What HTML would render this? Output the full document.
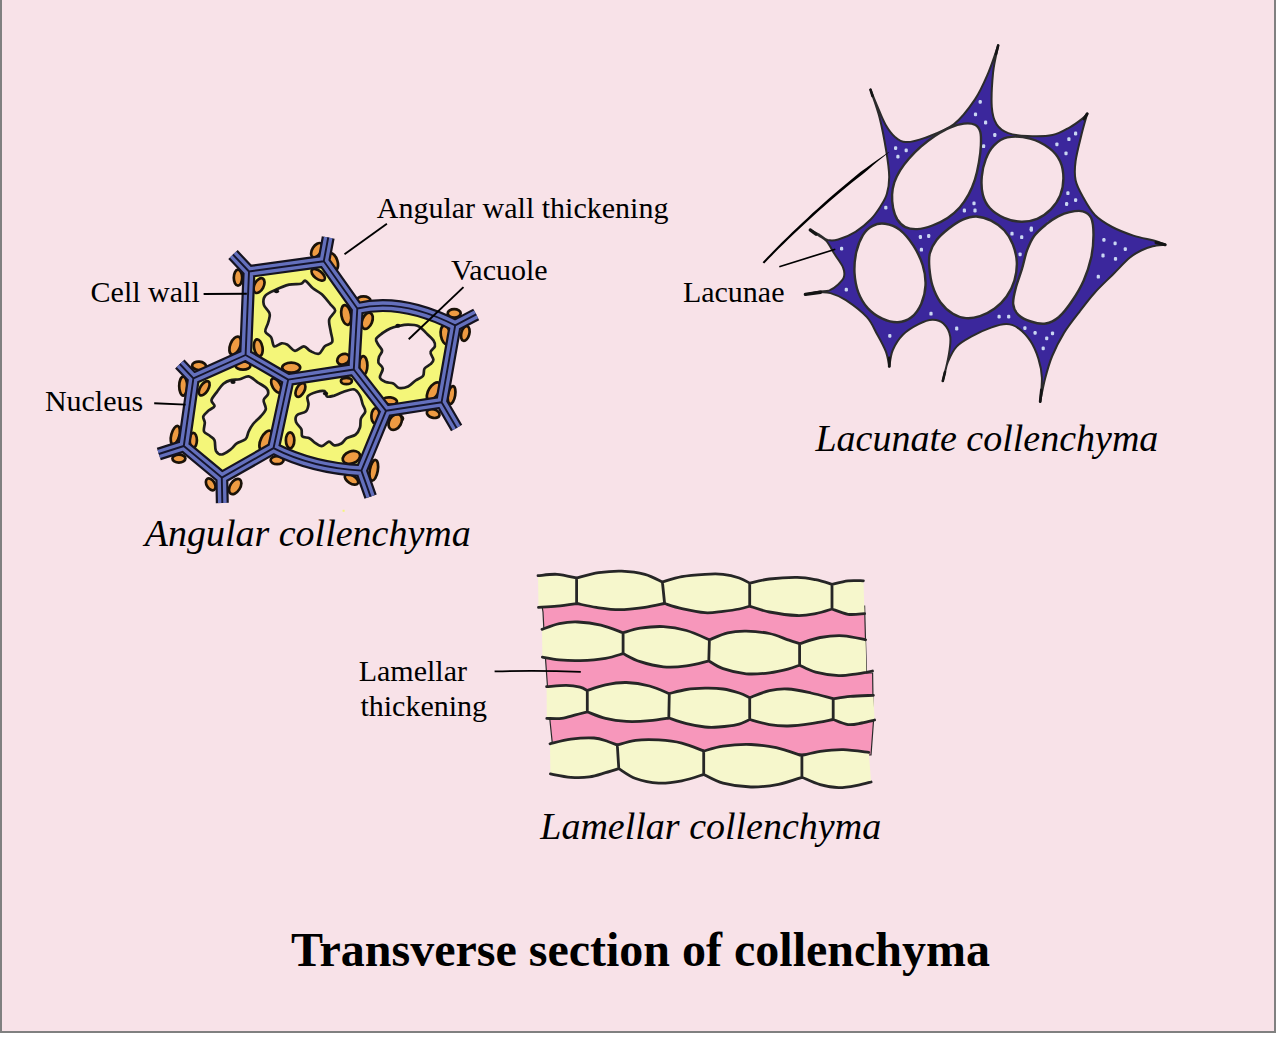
<!DOCTYPE html>
<html lang="en">
<head>
<meta charset="utf-8">
<title>Transverse section of collenchyma</title>
<style>
html,body{margin:0;padding:0;background:#fff;}
body{width:1276px;height:1038px;overflow:hidden;position:relative;font-family:"Liberation Serif",serif;color:#000;}
#panel{position:absolute;left:0;top:0;width:1272px;height:1031px;background:#f8e2e8;border-left:2px solid #808080;border-right:2px solid #808080;border-bottom:2px solid #808080;}
svg{position:absolute;left:0;top:0;}
text{font-family:"Liberation Serif",serif;fill:#000;}
.lab{font-size:30px;}
.cap{font-size:38px;font-style:italic;}
.title{font-size:48px;font-weight:bold;}
</style>
</head>
<body>
<div id="panel"></div>
<svg width="1276" height="1038" viewBox="0 0 1276 1038">
<g id="angular">
<path fill="#f4f679" d="M249 271.5L323.8 261.2L357.3 308.5L353.8 369.5L288.2 379.6L245.6 355L249 271.5ZM357.3 308.5Q402 298 455.2 325.4L441.6 402.2L386 410.8L353.8 369.5L357.3 308.5ZM245.6 355L193.4 378.4L183.8 446L221.8 477.6L273.5 448.2L288.2 379.6L245.6 355ZM288.2 379.6L353.8 369.5L386 410.8L361.4 470.6Q312 468 273.5 448.2L288.2 379.6Z"/>
<g fill="#ee9b42" stroke="#1a1208" stroke-width="2.7">
<ellipse cx="238" cy="277.7" rx="4.2" ry="8" transform="rotate(0 238 277.7)"/>
<ellipse cx="259" cy="285.6" rx="4.6" ry="8" transform="rotate(28 259 285.6)"/>
<ellipse cx="316.8" cy="250.2" rx="4.5" ry="8" transform="rotate(32 316.8 250.2)"/>
<ellipse cx="332.7" cy="261.8" rx="4.8" ry="9" transform="rotate(-18 332.7 261.8)"/>
<ellipse cx="318.2" cy="274.8" rx="4" ry="8" transform="rotate(-52 318.2 274.8)"/>
<ellipse cx="363.5" cy="300.6" rx="7" ry="4.2" transform="rotate(0 363.5 300.6)"/>
<ellipse cx="346.2" cy="315" rx="4.8" ry="10" transform="rotate(-10 346.2 315)"/>
<ellipse cx="367.2" cy="320.8" rx="5" ry="8.5" transform="rotate(22 367.2 320.8)"/>
<ellipse cx="235.2" cy="345.6" rx="5" ry="9.5" transform="rotate(22 235.2 345.6)"/>
<ellipse cx="258.3" cy="347.7" rx="4.2" ry="8.5" transform="rotate(-10 258.3 347.7)"/>
<ellipse cx="243" cy="365.5" rx="7.5" ry="4.2" transform="rotate(0 243 365.5)"/>
<ellipse cx="291.2" cy="367.6" rx="9" ry="5" transform="rotate(0 291.2 367.6)"/>
<ellipse cx="343.4" cy="359.2" rx="6.5" ry="5" transform="rotate(-30 343.4 359.2)"/>
<ellipse cx="363.2" cy="365.6" rx="4.2" ry="9.5" transform="rotate(0 363.2 365.6)"/>
<ellipse cx="454.2" cy="313.3" rx="6.5" ry="4.2" transform="rotate(0 454.2 313.3)"/>
<ellipse cx="445.6" cy="335" rx="4.8" ry="9.5" transform="rotate(-10 445.6 335)"/>
<ellipse cx="465.3" cy="333.5" rx="4" ry="7.5" transform="rotate(15 465.3 333.5)"/>
<ellipse cx="346.4" cy="381" rx="5.5" ry="3.2" transform="rotate(0 346.4 381)"/>
<ellipse cx="433.6" cy="391.2" rx="5" ry="10" transform="rotate(32 433.6 391.2)"/>
<ellipse cx="451.6" cy="395" rx="3.6" ry="9" transform="rotate(10 451.6 395)"/>
<ellipse cx="390.1" cy="401" rx="7" ry="3.6" transform="rotate(8 390.1 401)"/>
<ellipse cx="375.4" cy="415.6" rx="4" ry="7.5" transform="rotate(5 375.4 415.6)"/>
<ellipse cx="433.2" cy="413.6" rx="6.5" ry="4.2" transform="rotate(15 433.2 413.6)"/>
<ellipse cx="398" cy="418.5" rx="5" ry="3" transform="rotate(0 398 418.5)"/>
<ellipse cx="199.1" cy="365.9" rx="7" ry="4.2" transform="rotate(5 199.1 365.9)"/>
<ellipse cx="183.2" cy="386.1" rx="4" ry="9.5" transform="rotate(0 183.2 386.1)"/>
<ellipse cx="204.2" cy="388.3" rx="4" ry="8" transform="rotate(32 204.2 388.3)"/>
<ellipse cx="276.4" cy="385.6" rx="4" ry="8" transform="rotate(-30 276.4 385.6)"/>
<ellipse cx="300.4" cy="390" rx="4" ry="7.5" transform="rotate(28 300.4 390)"/>
<ellipse cx="175.3" cy="435.2" rx="4" ry="9.5" transform="rotate(15 175.3 435.2)"/>
<ellipse cx="193.3" cy="440.3" rx="3.6" ry="7.5" transform="rotate(0 193.3 440.3)"/>
<ellipse cx="265.8" cy="440.3" rx="5" ry="10.5" transform="rotate(26 265.8 440.3)"/>
<ellipse cx="290.1" cy="440.3" rx="4.2" ry="8" transform="rotate(0 290.1 440.3)"/>
<ellipse cx="178.9" cy="458.6" rx="6.5" ry="4" transform="rotate(0 178.9 458.6)"/>
<ellipse cx="277.1" cy="460.2" rx="6.5" ry="4" transform="rotate(0 277.1 460.2)"/>
<ellipse cx="210.7" cy="484.4" rx="4" ry="6.5" transform="rotate(-32 210.7 484.4)"/>
<ellipse cx="235.2" cy="486.5" rx="5" ry="8.5" transform="rotate(32 235.2 486.5)"/>
<ellipse cx="395.2" cy="422" rx="6" ry="8.5" transform="rotate(30 395.2 422)"/>
<ellipse cx="351.4" cy="457.4" rx="9" ry="6" transform="rotate(-20 351.4 457.4)"/>
<ellipse cx="373.8" cy="470.3" rx="4" ry="10.5" transform="rotate(10 373.8 470.3)"/>
<ellipse cx="351.5" cy="479.4" rx="7.5" ry="4" transform="rotate(32 351.5 479.4)"/>
</g>
<g fill="none" stroke-linejoin="round">
<path stroke="#15131f" stroke-width="13" stroke-linecap="butt" d="M249 271.5L323.8 261.2M323.8 261.2L357.3 308.5M357.3 308.5L353.8 369.5M353.8 369.5L288.2 379.6M288.2 379.6L245.6 355M245.6 355L249 271.5M357.3 308.5Q402 298 455.2 325.4M455.2 325.4L441.6 402.2M441.6 402.2L386 410.8M386 410.8L353.8 369.5M245.6 355L193.4 378.4M193.4 378.4L183.8 446M183.8 446L221.8 477.6M221.8 477.6L273.5 448.2M273.5 448.2L288.2 379.6M386 410.8L361.4 470.6M361.4 470.6Q312 468 273.5 448.2M249 271.5L233 254.5M323.8 261.2L328.2 237.5M455.2 325.4L476.2 314.4M441.6 402.2L456.6 428M361.4 470.6L370.6 496.6M221.8 477.6L222.3 503M183.8 446L158.8 454M193.4 378.4L179.8 364"/>
<path stroke="#6470bd" stroke-width="8.6" stroke-linecap="butt" d="M249 271.5L323.8 261.2M323.8 261.2L357.3 308.5M357.3 308.5L353.8 369.5M353.8 369.5L288.2 379.6M288.2 379.6L245.6 355M245.6 355L249 271.5M357.3 308.5Q402 298 455.2 325.4M455.2 325.4L441.6 402.2M441.6 402.2L386 410.8M386 410.8L353.8 369.5M245.6 355L193.4 378.4M193.4 378.4L183.8 446M183.8 446L221.8 477.6M221.8 477.6L273.5 448.2M273.5 448.2L288.2 379.6M386 410.8L361.4 470.6M361.4 470.6Q312 468 273.5 448.2M249 271.5L233 254.5M323.8 261.2L328.2 237.5M455.2 325.4L476.2 314.4M441.6 402.2L456.6 428M361.4 470.6L370.6 496.6M221.8 477.6L222.3 503M183.8 446L158.8 454M193.4 378.4L179.8 364"/>
<path stroke="#15152e" stroke-width="1.9" stroke-linecap="butt" d="M249 271.5L323.8 261.2M323.8 261.2L357.3 308.5M357.3 308.5L353.8 369.5M353.8 369.5L288.2 379.6M288.2 379.6L245.6 355M245.6 355L249 271.5M357.3 308.5Q402 298 455.2 325.4M455.2 325.4L441.6 402.2M441.6 402.2L386 410.8M386 410.8L353.8 369.5M245.6 355L193.4 378.4M193.4 378.4L183.8 446M183.8 446L221.8 477.6M221.8 477.6L273.5 448.2M273.5 448.2L288.2 379.6M386 410.8L361.4 470.6M361.4 470.6Q312 468 273.5 448.2M249 271.5L233 254.5M323.8 261.2L328.2 237.5M455.2 325.4L476.2 314.4M441.6 402.2L456.6 428M361.4 470.6L370.6 496.6M221.8 477.6L222.3 503M183.8 446L158.8 454M193.4 378.4L179.8 364"/>
</g>
<g fill="#f8e2e8" stroke="#1e1e1e" stroke-width="2.7" stroke-linejoin="round">
<path d="M275.7 289.8C279.6 287.9 284.9 285.6 289.1 284.6C293.3 283.6 298.2 284.4 301 283.8C303.7 283.2 303.5 280.1 305.4 280.8C307.4 281.6 310.1 286.1 312.9 288.3C315.6 290.5 318.8 291.5 321.8 294.2C324.8 297 328.5 301.9 330.7 304.7C333 307.4 335.4 308.1 335.2 310.6C334.9 313.1 330 316.1 329.2 319.5C328.5 323 330.2 327.7 330.7 331.4C331.2 335.2 333.2 339.4 332.2 341.9C331.2 344.3 327 344.3 324.8 346.3C322.5 348.3 321.3 353 318.8 353.8C316.3 354.5 312.4 352 309.9 350.8C307.4 349.5 306.4 346.3 303.9 346.3C301.5 346.3 297.7 351 295 350.8C292.3 350.5 289.8 346.1 287.6 344.8C285.3 343.6 283.9 343.1 281.6 343.3C279.4 343.6 275.9 347.3 274.2 346.3C272.5 345.3 272.7 339.9 271.2 337.4C269.7 334.9 265.8 333.9 265.3 331.4C264.8 329 267.5 325.5 268.2 322.5C269 319.5 270.5 316.6 269.7 313.6C269 310.6 264.5 307.6 263.8 304.7C263 301.7 263.3 298.2 265.3 295.7C267.2 293.2 271.7 291.6 275.7 289.8Z"/>
<path d="M397.7 326.2C400.7 325.6 404.7 324.7 408.1 324.7C411.6 324.7 415.6 324.8 418.6 326.2C421.5 327.6 423.5 330.5 426 332.9C428.5 335.2 431.9 338.1 433.4 340.3C434.9 342.6 435.4 344.3 434.9 346.3C434.4 348.3 430.7 350 430.5 352.2C430.2 354.5 433.4 357.7 433.4 359.7C433.4 361.7 431.9 362.7 430.5 364.1C429 365.6 425.7 366.6 424.5 368.6C423.3 370.6 424.5 374.1 423 376C421.5 378 418.1 378.8 415.6 380.5C413.1 382.2 410.9 385.2 408.1 386.5C405.4 387.7 401.7 388.4 399.2 388C396.7 387.5 395.5 384.5 393.3 383.5C391 382.5 388.1 383 385.8 382C383.6 381 380.4 379.8 379.9 377.5C379.4 375.3 383.1 371.1 382.8 368.6C382.6 366.1 379 364.6 378.4 362.7C377.8 360.7 378.5 358.7 379.1 356.7C379.7 354.7 382.2 352.7 382.1 350.7C382 348.8 379.4 346.8 378.4 344.8C377.4 342.8 375.4 340.8 376.1 338.8C376.9 336.9 380.5 334.6 382.8 332.9C385.2 331.2 387.8 329.5 390.3 328.4C392.8 327.3 394.7 326.8 397.7 326.2Z"/>
<path d="M230.8 380.1C233.6 379.3 236.8 380 239.8 379.3C242.7 378.7 245.7 375.9 248.7 376.4C251.7 376.9 254.6 380.3 257.6 382.3C260.6 384.3 264.8 386.3 266.5 388.3C268.3 390.2 268.5 392.2 268 394.2C267.5 396.2 263.9 397.7 263.6 400.2C263.2 402.6 266.3 406.4 265.8 409.1C265.3 411.8 262.7 414.1 260.6 416.5C258.5 419 255.1 421.5 253.1 424C251.2 426.5 249.9 428.9 248.7 431.4C247.4 433.9 247.7 436.9 245.7 438.9C243.7 440.8 239.3 441.6 236.8 443.3C234.3 445.1 233.3 447.4 230.8 449.3C228.3 451.1 224.4 454.2 221.9 454.5C219.4 454.7 217.2 453.1 215.9 450.8C214.7 448.4 215.5 442.8 214.5 440.3C213.5 437.9 211.7 437.4 210 435.9C208.3 434.4 204.9 433.6 204 431.4C203.2 429.2 204.9 425 204.8 422.5C204.7 420 202.7 418.5 203.3 416.5C203.9 414.6 206.6 412.3 208.5 410.6C210.4 408.8 214 407.9 214.5 406.1C215 404.4 211 402.6 211.5 400.2C212 397.7 215.5 394 217.4 391.2C219.4 388.5 221.2 385.7 223.4 383.8C225.6 381.9 228.1 380.8 230.8 380.1Z"/>
<path d="M307.6 396.5C309 394.4 313.7 392.9 316.5 392C319.3 391.1 322.7 390.4 324.5 391.1C326.3 391.9 325.5 395.7 327.2 396.5C328.8 397.2 331.6 396.3 334.3 395.6C336.9 394.8 339.9 393 343.1 392C346.4 391 351 388.8 353.8 389.3C356.6 389.9 358.5 393 360 395.6C361.5 398.1 361.8 401.8 362.7 404.4C363.6 407.1 365.6 409.2 365.3 411.5C365 413.9 361.8 416 360.9 418.6C360 421.3 360.9 424.9 360 427.5C359.1 430.2 357.8 432.9 355.6 434.6C353.4 436.4 349.1 436.7 346.7 438.2C344.3 439.7 343.4 442.3 341.4 443.5C339.3 444.7 336.3 445.6 334.3 445.3C332.2 445 331 441.6 328.9 441.7C326.9 441.9 324.2 446 321.8 446.2C319.5 446.3 316.8 444 314.7 442.6C312.7 441.3 311.5 439.2 309.4 438.2C307.3 437.1 303.6 437.9 302.3 436.4C301 434.9 302.4 431.7 301.4 429.3C300.4 426.9 296.8 424.6 296.1 422.2C295.3 419.8 295.3 416.9 297 415.1C298.6 413.3 303.9 413.3 305.8 411.5C307.8 409.8 308.2 407 308.5 404.4C308.8 401.9 306.3 398.5 307.6 396.5Z"/>
</g>
<g fill="#111">
<ellipse cx="276.5" cy="291.3" rx="2.6" ry="2"/>
<ellipse cx="397.9" cy="325.8" rx="2.6" ry="2"/>
<ellipse cx="233" cy="382" rx="2.6" ry="2"/>
<ellipse cx="325.5" cy="393.6" rx="2.6" ry="2"/>
</g>
</g>
<rect x="342.6" y="509.8" width="2" height="2" fill="#f4f679"/>
<g id="lacunate">
<path fill="#3b279c" stroke="#2b2b2b" stroke-width="2" stroke-linejoin="round" d="M870.5 89.7C871.7 92.6 875.2 101.3 877.7 107.1C880.1 112.9 882.5 119.4 885.4 124.4C888.3 129.4 891.6 134 895 136.9C898.4 139.9 900.6 142 905.6 142.1C910.6 142.3 916.8 140.9 924.9 137.9C932.9 134.9 945.4 130.8 953.8 124.4C962.1 118 969.2 108 975 99.4C980.8 90.7 984.6 81.4 988.5 72.4C992.3 63.4 996.6 49.9 998.2 45.4C997.4 49.9 994.2 62.1 993.1 72.4C992.1 82.7 991.2 98.4 991.8 107.1C992.4 115.7 993.9 120.1 996.6 124.4C999.3 128.7 1003 131.2 1008.2 133.1C1013.3 135 1020.1 135.7 1027.4 136C1034.8 136.3 1045.4 136.5 1052.5 135C1059.6 133.6 1064.8 130 1069.8 127.3C1074.8 124.6 1079.5 120.9 1082.4 118.6C1085.2 116.4 1086.4 114.6 1087.2 113.8C1086.2 117.3 1083.3 127.1 1081.4 135C1079.5 142.9 1076.6 153.5 1075.6 161C1074.6 168.6 1074.3 174.2 1075.6 180.3C1076.9 186.4 1080.1 191.8 1083.3 197.6C1086.5 203.4 1090.1 210.1 1094.9 215C1099.7 219.9 1105.8 223.5 1112.2 227C1118.6 230.4 1126.3 233.3 1133.4 235.6C1140.5 238 1149.3 239.3 1154.6 240.8C1159.9 242.4 1163.4 244.1 1165.2 244.7C1163.1 245 1156.7 245.3 1152.7 246.2C1148.7 247.2 1145 248.6 1141.1 250.5C1137.3 252.4 1134.1 254 1129.6 257.8C1125.1 261.6 1119.9 267.4 1114.1 273.2C1108.4 279 1100.7 286.1 1094.9 292.5C1089.1 298.9 1084.6 305 1079.5 311.8C1074.3 318.5 1068.6 325.6 1064 332.9C1059.5 340.3 1055.4 348.3 1052.2 356C1049 363.7 1047 371.4 1045 379C1043 386.6 1041 397.9 1040.2 401.7C1040.5 397.7 1042.2 384.8 1041.9 377.6C1041.6 370.4 1040.3 364.6 1038.4 358.6C1036.5 352.6 1034 346.4 1030.7 341.4C1027.4 336.4 1022.6 331.3 1018.6 328.4C1014.6 325.5 1011.2 324.2 1006.6 324.1C1002 324 996.8 325.6 991 327.6C985.2 329.6 977.8 333 972.1 336.2C966.4 339.4 960.6 342.3 956.6 346.6C952.6 350.9 950.2 356.3 947.9 362C945.6 367.7 943.6 377.8 942.8 381C943.8 376.8 947.4 363.4 948.6 356C949.8 348.6 951.1 341.9 950.2 336.5C949.3 331.1 946.4 326.4 943.4 323.6C940.4 320.8 936.5 319.7 932.4 319.8C928.3 319.9 923.5 321.7 918.6 324.1C913.7 326.6 907.4 330.2 903.1 334.5C898.8 338.8 895.1 344.7 892.8 350C890.5 355.3 889.9 363.7 889.3 366.4C888.7 363.9 887.9 357 885.9 351.7C883.9 346.4 880.4 340.2 877.2 334.5C874 328.8 872.1 322.9 866.9 317.2C861.7 311.5 851.9 304.2 845.9 300.2C839.8 296.2 835 294.4 830.5 293.1C826 291.7 823.1 292.1 818.9 292.3C814.7 292.5 807.7 294 805.4 294.4C807.7 294 814.9 292.4 818.9 291.7C822.9 291 826.3 291.6 829.5 290.4C832.7 289.1 835.8 286.6 838.2 284.4C840.6 282.2 843.1 279.9 843.9 277.1C844.8 274.2 844.5 271.2 843 267.4C841.4 263.6 837.4 258.7 834.7 254.3C832 250 829.2 244.3 826.6 241.2C824 238.1 821.6 237.5 818.9 235.6C816.2 233.8 811.7 230.9 810.2 229.9C811.8 230.8 817 233.4 819.9 235.1C822.8 236.7 824.5 239.1 827.6 239.9C830.6 240.6 833.5 240.8 838.2 239.5C842.8 238.2 850.1 235.2 855.5 231.8C861 228.4 866.8 223.5 870.9 219.3C875.1 215 877.9 210.5 880.6 206.3C883.2 202.1 885.5 198.8 886.9 193.8C888.4 188.8 889.3 183.5 889.2 176.4C889.1 169.4 887.9 161.2 886.3 151.4C884.7 141.6 882.2 127.9 879.6 117.7C877 107.4 872 94.4 870.5 89.7Z"/>
<g fill="#c9d6f2">
<rect x="894" y="146.2" width="3.2" height="3.8" rx="1.2"/>
<rect x="904.6" y="148.5" width="3.2" height="3.8" rx="1.2"/>
<rect x="896.3" y="154.7" width="3.2" height="3.8" rx="1.2"/>
<rect x="978.6" y="100" width="3.2" height="3.8" rx="1.2"/>
<rect x="973.9" y="112.5" width="3.2" height="3.8" rx="1.2"/>
<rect x="984" y="120.6" width="3.2" height="3.8" rx="1.2"/>
<rect x="993.2" y="133.1" width="3.2" height="3.8" rx="1.2"/>
<rect x="982" y="144.3" width="3.2" height="3.8" rx="1.2"/>
<rect x="884.2" y="205.7" width="3.2" height="3.8" rx="1.2"/>
<rect x="972.4" y="201.5" width="3.2" height="3.8" rx="1.2"/>
<rect x="962.8" y="208.6" width="3.2" height="3.8" rx="1.2"/>
<rect x="973.4" y="208.6" width="3.2" height="3.8" rx="1.2"/>
<rect x="1074" y="131.6" width="3.2" height="3.8" rx="1.2"/>
<rect x="1067.3" y="137.3" width="3.2" height="3.8" rx="1.2"/>
<rect x="1055.3" y="142.4" width="3.2" height="3.8" rx="1.2"/>
<rect x="1064.4" y="151.4" width="3.2" height="3.8" rx="1.2"/>
<rect x="1066.3" y="191.3" width="3.2" height="3.8" rx="1.2"/>
<rect x="1074" y="198.2" width="3.2" height="3.8" rx="1.2"/>
<rect x="1065" y="202.1" width="3.2" height="3.8" rx="1.2"/>
<rect x="1047.4" y="221.4" width="3.2" height="3.8" rx="1.2"/>
<rect x="1029.7" y="226.6" width="3.2" height="3.8" rx="1.2"/>
<rect x="840" y="246.7" width="3.2" height="3.8" rx="1.2"/>
<rect x="844.7" y="287.7" width="3.2" height="3.8" rx="1.2"/>
<rect x="918.8" y="235.1" width="3.2" height="3.8" rx="1.2"/>
<rect x="927.1" y="234.1" width="3.2" height="3.8" rx="1.2"/>
<rect x="919.8" y="247.8" width="3.2" height="3.8" rx="1.2"/>
<rect x="929.4" y="311.8" width="3.2" height="3.8" rx="1.2"/>
<rect x="955.1" y="326.6" width="3.2" height="3.8" rx="1.2"/>
<rect x="888.2" y="333.9" width="3.2" height="3.8" rx="1.2"/>
<rect x="997.5" y="314.7" width="3.2" height="3.8" rx="1.2"/>
<rect x="1007.1" y="314.7" width="3.2" height="3.8" rx="1.2"/>
<rect x="1010.4" y="231.8" width="3.2" height="3.8" rx="1.2"/>
<rect x="1020.1" y="235.3" width="3.2" height="3.8" rx="1.2"/>
<rect x="1029.7" y="228" width="3.2" height="3.8" rx="1.2"/>
<rect x="1018.5" y="252.4" width="3.2" height="3.8" rx="1.2"/>
<rect x="1102.3" y="238" width="3.2" height="3.8" rx="1.2"/>
<rect x="1113.5" y="241.5" width="3.2" height="3.8" rx="1.2"/>
<rect x="1123.7" y="247.2" width="3.2" height="3.8" rx="1.2"/>
<rect x="1101.4" y="253.6" width="3.2" height="3.8" rx="1.2"/>
<rect x="1113.9" y="256.9" width="3.2" height="3.8" rx="1.2"/>
<rect x="1096.7" y="274.8" width="3.2" height="3.8" rx="1.2"/>
<rect x="1023.3" y="326.2" width="3.2" height="3.8" rx="1.2"/>
<rect x="1033.5" y="331" width="3.2" height="3.8" rx="1.2"/>
<rect x="1050.9" y="331.4" width="3.2" height="3.8" rx="1.2"/>
<rect x="1045.1" y="336.4" width="3.2" height="3.8" rx="1.2"/>
<rect x="1041.6" y="346.5" width="3.2" height="3.8" rx="1.2"/>
</g>
<g fill="#f8e2e8" stroke="#2e2e2e" stroke-width="2.4">
<path d="M974.9 124.8C977.6 126.2 979.3 128.5 980.3 132C981.3 135.4 981.1 140.2 980.9 145.3C980.7 150.4 979.9 156.7 978.9 162.5C977.9 168.2 976.6 174.3 974.9 179.6C973.2 184.9 971.2 189.7 968.7 194.4C966.2 199 963.3 203.6 959.7 207.5C956.2 211.5 952.1 214.9 947.6 217.9C943 220.9 937.5 223.6 932.4 225.5C927.4 227.3 921.8 228.8 917.3 229.1C912.8 229.3 908.6 228.7 905.3 227.1C902 225.5 899.4 222.7 897.3 219.5C895.3 216.3 894 212.1 893.1 207.9C892.3 203.8 891.9 199 892.1 194.8C892.3 190.5 893 186.5 894.3 182.4C895.7 178.4 897.7 174.4 900.1 170.4C902.6 166.5 905.6 162.4 909.1 158.5C912.6 154.5 916.6 150.5 920.9 146.7C925.1 143 930 139.1 934.8 135.9C939.7 132.7 945.1 129.6 950 127.6C954.8 125.5 959.8 124 963.9 123.6C968.1 123.1 972.2 123.4 974.9 124.8Z"/>
<path d="M1007.3 137.4C1013.3 136.3 1023 136.8 1030 138.6C1037.1 140.4 1044.6 144.5 1049.6 148.4C1054.6 152.2 1057.9 156.5 1060.2 161.5C1062.5 166.5 1063.4 172.6 1063.4 178.3C1063.4 183.9 1062.3 190.2 1060.2 195.4C1058.1 200.6 1054.6 205.5 1050.8 209.4C1047 213.3 1042.1 216.7 1037.2 218.8C1032.3 220.8 1026.8 221.9 1021.3 221.8C1015.8 221.6 1009.4 220.1 1004.1 217.8C998.9 215.5 993.3 211.8 989.8 208C986.2 204.1 984.1 199.8 982.8 194.6C981.5 189.4 981.3 182.6 981.8 176.7C982.3 170.8 983.7 164.4 985.8 159.1C987.8 153.9 990.4 149 994 145.4C997.5 141.8 1001.3 138.5 1007.3 137.4Z"/>
<path d="M885.1 223.8C889.6 224.5 895.1 226.3 899.8 229.9C904.5 233.6 909.6 239.8 913.4 245.7C917.2 251.6 920.7 258.7 922.7 265.2C924.8 271.8 925.8 278.7 925.5 285.2C925.3 291.6 923.5 298.6 921.2 303.9C918.8 309.3 915.3 314.2 911.4 317.3C907.5 320.3 902.7 322 897.8 322.3C893 322.5 887.3 321 882.3 318.7C877.2 316.3 871.7 312.5 867.7 308.1C863.7 303.7 860.5 298.2 858.3 292.4C856.1 286.5 854.9 279.5 854.5 272.8C854.2 266.1 854.9 258.4 856.3 252.1C857.7 245.8 860.2 239.5 862.9 235.1C865.6 230.7 869 227.6 872.7 225.8C876.4 223.9 880.5 223.1 885.1 223.8Z"/>
<path d="M929.4 268.2C929 262.9 928.6 258.2 929.8 253.5C931 248.8 933.3 244.2 936.6 240C939.8 235.7 944.8 231.6 949.1 228.2C953.5 224.8 958.3 221.6 962.8 219.6C967.3 217.7 971.5 216.4 976.2 216.5C980.9 216.7 986.4 218.3 991.1 220.6C995.7 222.9 1000.6 226.4 1004.2 230.3C1007.9 234.3 1010.7 239.1 1012.8 244.3C1014.9 249.6 1016.5 255.8 1016.8 261.9C1017.1 267.9 1016.1 274.8 1014.4 280.6C1012.7 286.4 1009.9 291.9 1006.6 296.5C1003.3 301.2 999.1 305.3 994.7 308.5C990.2 311.8 984.8 314.5 980 316.1C975.2 317.7 970.5 318.5 966 318.1C961.5 317.7 957.2 316.4 952.9 313.7C948.6 311.1 943.8 306.9 940.4 302.2C937 297.4 934.2 291.1 932.4 285.4C930.6 279.8 929.9 273.6 929.4 268.2Z"/>
<path d="M1069.6 212.1C1073.7 211.2 1079.2 210.3 1082.8 211.3C1086.4 212.3 1089.4 214.1 1091.2 218C1093 222 1093.5 228.2 1093.5 234.8C1093.5 241.4 1092.8 249.9 1091.2 257.5C1089.5 265.2 1086.8 273.4 1083.6 280.7C1080.4 287.9 1076.1 295 1072 301C1067.9 307.1 1063.2 313.2 1058.9 317C1054.5 320.7 1050.3 322.8 1045.7 323.5C1041 324.3 1035.5 323 1030.9 321.5C1026.4 320.1 1021.3 317.7 1018.4 314.8C1015.4 311.9 1013.6 308.5 1013.2 304.2C1012.7 299.8 1014.1 294.4 1015.6 288.6C1017 282.9 1019.9 275.8 1021.8 269.5C1023.7 263.2 1024.9 256.3 1026.9 250.7C1029 245.2 1030.9 240.4 1034.1 236C1037.3 231.6 1042.1 227.7 1046.1 224.4C1050.1 221.2 1054.1 218.5 1058.1 216.4C1062 214.4 1065.5 212.9 1069.6 212.1Z"/>
</g>
<g fill="none" stroke="#141414" stroke-linecap="round">
<path stroke-width="2.6" d="M870.5 89.7L872.5 96"/>
<path stroke-width="2.6" d="M998.2 45.4L996 54"/>
<path stroke-width="3" d="M1087.2 113.8L1084 119"/>
<path stroke-width="3.2" d="M810.2 229.9L816 234.2"/>
<path stroke-width="3.4" d="M805.4 294.4L820.5 292.2"/>
<path stroke-width="2.8" d="M889.3 366.4L889.3 358"/>
<path stroke-width="2.6" d="M942.8 381L945 372"/>
<path stroke-width="3" d="M1165.2 244.7L1156 242.5"/>
<path stroke-width="2.8" d="M1040.2 401.7L1041.4 390"/>
</g>
</g>
<g id="lamellar">
<path fill="#f797bb" stroke="#2a2a2a" stroke-width="1.2" d="M541 600L864.6 606L865.5 640L866.5 673L872.6 673L873 700L873.5 721L871 755L553 750L549.5 716L547.6 688L545.6 660L544 632L543 612Z"/>
<path fill="#f6f7cc" stroke="none" d="M538 575.7C541.2 575.5 550.6 573.9 557 574.3C563.4 574.7 573.3 577.4 576.6 578L576.6 603.5C573.3 604 563.4 605.6 557 606.2C550.6 606.9 541.6 607.2 538.5 607.4Z"/>
<path fill="#f6f7cc" stroke="none" d="M576.6 578C580.3 577.1 591.1 573.9 598.6 572.7C606.1 571.6 614 570.8 621.7 571.1C629.4 571.4 638.1 572.5 644.9 574.3C651.7 576.1 659.5 580.7 662.4 582L664.6 603.5C661.3 604.1 652.4 606.4 644.9 607.4C637.4 608.4 627.5 609.7 619.4 609.7C611.3 609.7 603.4 608.4 596.3 607.4C589.2 606.4 579.9 604.1 576.6 603.5Z"/>
<path fill="#f6f7cc" stroke="none" d="M662.4 582C665.6 581.1 674.7 577.9 681.8 576.6C688.9 575.3 698.1 574.7 705 574.3C711.9 573.9 717.4 573.7 723.1 574.3C728.8 574.9 734.9 576.5 739.3 578C743.7 579.5 748 582.2 749.7 583.1L749.7 606.2C748 606.7 743.7 608.1 739.3 609C734.9 609.9 728.8 610.7 723.1 611.3C717.4 611.9 711.9 613.2 705 612.7C698.1 612.2 688.5 610.1 681.8 608.6C675.1 607.1 667.5 604.4 664.6 603.5Z"/>
<path fill="#f6f7cc" stroke="none" d="M749.7 583.1C753 582.4 761.5 580 769.4 579C777.3 578 789.4 577.2 797.1 577.3C804.8 577.4 809.8 578.5 815.6 579.7C821.4 580.9 829.3 583.5 832 584.3L832 609C829.3 609.8 821.4 612.5 815.6 613.6C809.8 614.7 804.8 615.8 797.1 615.5C789.4 615.2 777.3 613.5 769.4 612C761.5 610.5 753 607.2 749.7 606.2Z"/>
<path fill="#f6f7cc" stroke="none" d="M832 584.3C834.7 583.7 842.8 581.4 848 580.8C853.2 580.2 860.8 580.8 863.4 580.8L864.6 613.6C861.8 613.7 853.4 615.1 848 614.3C842.6 613.5 834.7 609.9 832 609Z"/>
<path fill="#f6f7cc" stroke="none" d="M542 629.4C544.9 628.4 553.3 624.8 559.3 623.6C565.3 622.4 570.9 621.7 577.8 622C584.7 622.3 593.3 623.4 600.9 625.2C608.5 627 619.4 631.5 623.1 632.8L623.1 653.6C620.2 654.4 612.7 657.1 605.5 658.3C598.3 659.5 587.8 660.3 580.1 660.6C572.4 660.9 565.6 660.5 559.3 659.9C553 659.3 545.2 657.6 542.4 657.1Z"/>
<path fill="#f6f7cc" stroke="none" d="M623.1 632.8C626 632 633.5 629.2 640.2 628.2C646.9 627.2 655.7 626.2 663.4 626.6C671.1 627 678.8 628.3 686.5 630.5C694.2 632.7 705.6 638.2 709.4 639.8L708.8 660.9C705.1 661.7 694.1 664.9 686.5 665.9C678.9 666.9 671.1 667.5 663.4 666.8C655.7 666.1 646.9 663.9 640.2 661.7C633.5 659.5 626 655 623.1 653.6Z"/>
<path fill="#f6f7cc" stroke="none" d="M709.4 639.8C712.5 638.6 721.6 634.2 727.7 632.8C733.8 631.4 739.2 631.1 746.2 631.2C753.2 631.3 762.5 632.1 769.4 633.5C776.3 634.9 782.9 638.1 787.9 639.8C792.9 641.5 797.6 643.1 799.6 643.7L799.6 665.2C797.6 665.9 792.9 667.8 787.9 669.1C782.9 670.4 776.3 672 769.4 672.8C762.5 673.6 753.9 674.5 746.2 673.8C738.5 673.1 729.3 670.9 723.1 668.7C716.9 666.6 711.2 662.2 708.8 660.9Z"/>
<path fill="#f6f7cc" stroke="none" d="M799.6 643.7C803 642.7 812.9 638.8 820.2 637.5C827.5 636.2 835.8 635.4 843.4 635.8C851 636.2 861.9 639.1 865.6 639.8L866.4 672.4C864.9 672.6 861.8 673.3 857.2 673.8C852.6 674.3 845.6 675.9 838.7 675.6C831.8 675.3 822.1 673.8 815.6 672.1C809.1 670.4 802.3 666.4 799.6 665.2Z"/>
<path fill="#f6f7cc" stroke="none" d="M546.6 686.7C549.9 686.5 560.6 685.2 566.2 685.3C571.8 685.4 576.6 686.3 580.1 687.2C583.6 688.1 586.1 690 587.3 690.6L587.3 711.8C585.3 712.3 579.8 713.8 575.5 714.9C571.2 716 566.4 717.8 561.6 718.4C556.8 719 549.3 718.4 546.8 718.4Z"/>
<path fill="#f6f7cc" stroke="none" d="M587.3 690.6C590.3 689.6 599 686.2 605.5 684.9C612 683.5 619.1 682.3 626.4 682.5C633.7 682.7 642.4 684.1 649.5 686C656.6 687.9 666 692.3 669.3 693.6L668.8 718C665.6 718.5 656.6 720.1 649.5 720.7C642.4 721.3 633.7 721.8 626.4 721.4C619.1 721 612 720 605.5 718.4C599 716.8 590.3 712.9 587.3 711.8Z"/>
<path fill="#f6f7cc" stroke="none" d="M669.3 693.6C672.2 692.9 680.5 690.4 686.5 689.5C692.5 688.6 698.9 688.3 705 688.2C711.1 688.1 717.4 688.2 723.1 689C728.8 689.8 734.9 691.6 739.3 693C743.7 694.4 748 696.8 749.7 697.6L749.7 719.5C747.6 720.4 742.2 723.4 737 724.6C731.8 725.9 723.8 726.6 718.5 727C713.2 727.4 710.3 727.5 705 727C699.7 726.5 692.5 725.2 686.5 723.7C680.5 722.2 671.8 719 668.8 718Z"/>
<path fill="#f6f7cc" stroke="none" d="M749.7 697.6C753 696.4 763 692 769.4 690.6C775.8 689.2 781 688.6 787.9 689C794.8 689.4 803.5 691.4 811 693C818.5 694.6 829.5 697.8 833.2 698.7L833.2 719.5C829.5 720.2 818.5 722.6 811 723.7C803.5 724.8 794.8 725.9 787.9 726C781 726.1 775.8 725.7 769.4 724.6C763 723.5 753 720.4 749.7 719.5Z"/>
<path fill="#f6f7cc" stroke="none" d="M833.2 698.7C836.1 698.3 843.6 697 850.3 696.4C857 695.8 869.5 695.5 873.4 695.3L874.6 720C872.5 720.5 866.2 722.2 861.8 723C857.4 723.8 852.8 725.2 848 724.6C843.2 724 835.7 720.4 833.2 719.5Z"/>
<path fill="#f6f7cc" stroke="none" d="M550 743.8C553.5 743 563.6 740.2 570.9 739.2C578.2 738.2 587.8 737.6 594 738C600.2 738.4 604 740.3 607.9 741.5C611.8 742.7 615.7 744.4 617.3 745L618.8 768.6C616.6 769.3 610.4 771.3 605.5 772.7C600.6 774.1 595.2 776.1 589.4 776.9C583.6 777.7 577.4 777.8 570.9 777.3C564.4 776.8 553.8 774.5 550.4 773.9Z"/>
<path fill="#f6f7cc" stroke="none" d="M617.3 745C620.3 744.2 628.7 741.1 635.6 740.3C642.5 739.4 651 739.4 658.7 739.9C666.4 740.4 674.3 741.2 681.8 743.1C689.3 745 700.1 749.7 703.7 751L703.7 774.4C700.1 775.5 689.3 779.3 681.8 780.8C674.3 782.2 666.4 783.5 658.7 783.1C651 782.7 642.2 780.9 635.6 778.5C629 776.1 621.6 770.2 618.8 768.6Z"/>
<path fill="#f6f7cc" stroke="none" d="M703.7 751C706.9 750.2 715.2 747.2 723.1 746.1C731 745 742 744.2 750.9 744.5C759.8 744.8 767.8 745.9 776.3 747.7C784.8 749.6 797.6 754.3 801.9 755.6L801.9 777.3C798 778.5 787.1 782.7 778.6 784.3C770.1 785.9 760.1 787.2 750.9 787C741.6 786.8 731 785.2 723.1 783.1C715.2 781 706.9 775.9 703.7 774.4Z"/>
<path fill="#f6f7cc" stroke="none" d="M801.9 755.6C805 754.9 813.3 752.4 820.2 751.4C827.1 750.4 835.3 749.4 843.4 749.6C851.5 749.8 864.6 751.9 868.8 752.4L871.1 782C868.8 782.6 862.6 784.4 857.2 785.4C851.8 786.4 844.9 787.8 838.7 787.7C832.5 787.6 826.3 786.4 820.2 784.7C814.1 783 805 778.5 801.9 777.3Z"/>
<path fill="none" stroke="#262626" stroke-width="2.8" stroke-linecap="round" stroke-linejoin="round" d="M866.4 672.4L872.5 671M538 575.7C541.2 575.5 550.6 573.9 557 574.3C563.4 574.7 573.3 577.4 576.6 578M538.5 607.4C541.6 607.2 550.6 606.9 557 606.2C563.4 605.6 573.3 604 576.6 603.5M576.6 578L576.6 603.5M576.6 578C580.3 577.1 591.1 573.9 598.6 572.7C606.1 571.6 614 570.8 621.7 571.1C629.4 571.4 638.1 572.5 644.9 574.3C651.7 576.1 659.5 580.7 662.4 582M576.6 603.5C579.9 604.1 589.2 606.4 596.3 607.4C603.4 608.4 611.3 609.7 619.4 609.7C627.5 609.7 637.4 608.4 644.9 607.4C652.4 606.4 661.3 604.1 664.6 603.5M576.6 578L576.6 603.5M662.4 582L664.6 603.5M662.4 582C665.6 581.1 674.7 577.9 681.8 576.6C688.9 575.3 698.1 574.7 705 574.3C711.9 573.9 717.4 573.7 723.1 574.3C728.8 574.9 734.9 576.5 739.3 578C743.7 579.5 748 582.2 749.7 583.1M664.6 603.5C667.5 604.4 675.1 607.1 681.8 608.6C688.5 610.1 698.1 612.2 705 612.7C711.9 613.2 717.4 611.9 723.1 611.3C728.8 610.7 734.9 609.9 739.3 609C743.7 608.1 748 606.7 749.7 606.2M662.4 582L664.6 603.5M749.7 583.1L749.7 606.2M749.7 583.1C753 582.4 761.5 580 769.4 579C777.3 578 789.4 577.2 797.1 577.3C804.8 577.4 809.8 578.5 815.6 579.7C821.4 580.9 829.3 583.5 832 584.3M749.7 606.2C753 607.2 761.5 610.5 769.4 612C777.3 613.5 789.4 615.2 797.1 615.5C804.8 615.8 809.8 614.7 815.6 613.6C821.4 612.5 829.3 609.8 832 609M749.7 583.1L749.7 606.2M832 584.3L832 609M832 584.3C834.7 583.7 842.8 581.4 848 580.8C853.2 580.2 860.8 580.8 863.4 580.8M832 609C834.7 609.9 842.6 613.5 848 614.3C853.4 615.1 861.8 613.7 864.6 613.6M832 584.3L832 609M542 629.4C544.9 628.4 553.3 624.8 559.3 623.6C565.3 622.4 570.9 621.7 577.8 622C584.7 622.3 593.3 623.4 600.9 625.2C608.5 627 619.4 631.5 623.1 632.8M542.4 657.1C545.2 657.6 553 659.3 559.3 659.9C565.6 660.5 572.4 660.9 580.1 660.6C587.8 660.3 598.3 659.5 605.5 658.3C612.7 657.1 620.2 654.4 623.1 653.6M623.1 632.8L623.1 653.6M623.1 632.8C626 632 633.5 629.2 640.2 628.2C646.9 627.2 655.7 626.2 663.4 626.6C671.1 627 678.8 628.3 686.5 630.5C694.2 632.7 705.6 638.2 709.4 639.8M623.1 653.6C626 655 633.5 659.5 640.2 661.7C646.9 663.9 655.7 666.1 663.4 666.8C671.1 667.5 678.9 666.9 686.5 665.9C694.1 664.9 705.1 661.7 708.8 660.9M623.1 632.8L623.1 653.6M709.4 639.8L708.8 660.9M709.4 639.8C712.5 638.6 721.6 634.2 727.7 632.8C733.8 631.4 739.2 631.1 746.2 631.2C753.2 631.3 762.5 632.1 769.4 633.5C776.3 634.9 782.9 638.1 787.9 639.8C792.9 641.5 797.6 643.1 799.6 643.7M708.8 660.9C711.2 662.2 716.9 666.6 723.1 668.7C729.3 670.9 738.5 673.1 746.2 673.8C753.9 674.5 762.5 673.6 769.4 672.8C776.3 672 782.9 670.4 787.9 669.1C792.9 667.8 797.6 665.9 799.6 665.2M709.4 639.8L708.8 660.9M799.6 643.7L799.6 665.2M799.6 643.7C803 642.7 812.9 638.8 820.2 637.5C827.5 636.2 835.8 635.4 843.4 635.8C851 636.2 861.9 639.1 865.6 639.8M799.6 665.2C802.3 666.4 809.1 670.4 815.6 672.1C822.1 673.8 831.8 675.3 838.7 675.6C845.6 675.9 852.6 674.3 857.2 673.8C861.8 673.3 864.9 672.6 866.4 672.4M799.6 643.7L799.6 665.2M546.6 686.7C549.9 686.5 560.6 685.2 566.2 685.3C571.8 685.4 576.6 686.3 580.1 687.2C583.6 688.1 586.1 690 587.3 690.6M546.8 718.4C549.3 718.4 556.8 719 561.6 718.4C566.4 717.8 571.2 716 575.5 714.9C579.8 713.8 585.3 712.3 587.3 711.8M587.3 690.6L587.3 711.8M587.3 690.6C590.3 689.6 599 686.2 605.5 684.9C612 683.5 619.1 682.3 626.4 682.5C633.7 682.7 642.4 684.1 649.5 686C656.6 687.9 666 692.3 669.3 693.6M587.3 711.8C590.3 712.9 599 716.8 605.5 718.4C612 720 619.1 721 626.4 721.4C633.7 721.8 642.4 721.3 649.5 720.7C656.6 720.1 665.6 718.5 668.8 718M587.3 690.6L587.3 711.8M669.3 693.6L668.8 718M669.3 693.6C672.2 692.9 680.5 690.4 686.5 689.5C692.5 688.6 698.9 688.3 705 688.2C711.1 688.1 717.4 688.2 723.1 689C728.8 689.8 734.9 691.6 739.3 693C743.7 694.4 748 696.8 749.7 697.6M668.8 718C671.8 719 680.5 722.2 686.5 723.7C692.5 725.2 699.7 726.5 705 727C710.3 727.5 713.2 727.4 718.5 727C723.8 726.6 731.8 725.9 737 724.6C742.2 723.4 747.6 720.4 749.7 719.5M669.3 693.6L668.8 718M749.7 697.6L749.7 719.5M749.7 697.6C753 696.4 763 692 769.4 690.6C775.8 689.2 781 688.6 787.9 689C794.8 689.4 803.5 691.4 811 693C818.5 694.6 829.5 697.8 833.2 698.7M749.7 719.5C753 720.4 763 723.5 769.4 724.6C775.8 725.7 781 726.1 787.9 726C794.8 725.9 803.5 724.8 811 723.7C818.5 722.6 829.5 720.2 833.2 719.5M749.7 697.6L749.7 719.5M833.2 698.7L833.2 719.5M833.2 698.7C836.1 698.3 843.6 697 850.3 696.4C857 695.8 869.5 695.5 873.4 695.3M833.2 719.5C835.7 720.4 843.2 724 848 724.6C852.8 725.2 857.4 723.8 861.8 723C866.2 722.2 872.5 720.5 874.6 720M833.2 698.7L833.2 719.5M550 743.8C553.5 743 563.6 740.2 570.9 739.2C578.2 738.2 587.8 737.6 594 738C600.2 738.4 604 740.3 607.9 741.5C611.8 742.7 615.7 744.4 617.3 745M550.4 773.9C553.8 774.5 564.4 776.8 570.9 777.3C577.4 777.8 583.6 777.7 589.4 776.9C595.2 776.1 600.6 774.1 605.5 772.7C610.4 771.3 616.6 769.3 618.8 768.6M617.3 745L618.8 768.6M617.3 745C620.3 744.2 628.7 741.1 635.6 740.3C642.5 739.4 651 739.4 658.7 739.9C666.4 740.4 674.3 741.2 681.8 743.1C689.3 745 700.1 749.7 703.7 751M618.8 768.6C621.6 770.2 629 776.1 635.6 778.5C642.2 780.9 651 782.7 658.7 783.1C666.4 783.5 674.3 782.2 681.8 780.8C689.3 779.3 700.1 775.5 703.7 774.4M617.3 745L618.8 768.6M703.7 751L703.7 774.4M703.7 751C706.9 750.2 715.2 747.2 723.1 746.1C731 745 742 744.2 750.9 744.5C759.8 744.8 767.8 745.9 776.3 747.7C784.8 749.6 797.6 754.3 801.9 755.6M703.7 774.4C706.9 775.9 715.2 781 723.1 783.1C731 785.2 741.6 786.8 750.9 787C760.1 787.2 770.1 785.9 778.6 784.3C787.1 782.7 798 778.5 801.9 777.3M703.7 751L703.7 774.4M801.9 755.6L801.9 777.3M801.9 755.6C805 754.9 813.3 752.4 820.2 751.4C827.1 750.4 835.3 749.4 843.4 749.6C851.5 749.8 864.6 751.9 868.8 752.4M801.9 777.3C805 778.5 814.1 783 820.2 784.7C826.3 786.4 832.5 787.6 838.7 787.7C844.9 787.8 851.8 786.4 857.2 785.4C862.6 784.4 868.8 782.6 871.1 782M801.9 755.6L801.9 777.3"/>
</g>
<g fill="none" stroke="#000" stroke-linecap="butt">
<path stroke-width="1.9" d="M386.9 223.8L344.5 254.2"/>
<path stroke-width="1.9" d="M463.5 287.1L408.7 339.2"/>
<path stroke-width="2" d="M203.6 294.1L246.8 293.7"/>
<path stroke-width="1.9" d="M154.2 403.3L185.6 404.6"/>
<path stroke-width="1.7" d="M779.3 266.8L835.3 249.2"/>
<path stroke-width="1.7" d="M494.6 671.4Q540 670.2 580.8 671.9"/>
</g>
<path fill="#000" d="M764.2 263.6L769 258.6L773.9 253.6L778.8 248.6L783.8 243.7L788.8 238.8L793.8 234L798.9 229.2L804 224.4L809.1 219.7L814.3 215L819.5 210.3L824.7 205.7L830 201.1L835.3 196.5L840.6 192L846 187.6L851.4 183.1L856.8 178.7L862.3 174.4L867.7 169.9L873 165.3L878.4 160.8L883.8 156.4L889.3 151.9L889.1 151.7L883.3 155.7L877.5 159.7L871.8 163.8L866.1 167.9L860.4 172L855 176.5L849.6 180.9L844.2 185.4L838.8 190L833.5 194.5L828.3 199.1L823 203.8L817.8 208.4L812.6 213.1L807.5 217.9L802.3 222.7L797.3 227.5L792.2 232.3L787.2 237.2L782.2 242.1L777.3 247.1L772.4 252.1L767.5 257.1L762.6 262.2Z"/>
<text class="lab" x="376.8" y="217.6">Angular wall thickening</text>
<text class="lab" x="451" y="280.3">Vacuole</text>
<text class="lab" x="90.6" y="301.8">Cell wall</text>
<text class="lab" x="44.9" y="410.7">Nucleus</text>
<text class="lab" x="682.9" y="302.1">Lacunae</text>
<text class="lab" x="358.7" y="680.8">Lamellar</text>
<text class="lab" x="360.4" y="716.4">thickening</text>
<text class="cap" x="144.7" y="545.7">Angular collenchyma</text>
<text class="cap" x="815.4" y="451.1">Lacunate collenchyma</text>
<text class="cap" x="540.3" y="838.8">Lamellar collenchyma</text>
<text class="title" x="291" y="966">Transverse section of collenchyma</text>
</svg>
</body>
</html>
